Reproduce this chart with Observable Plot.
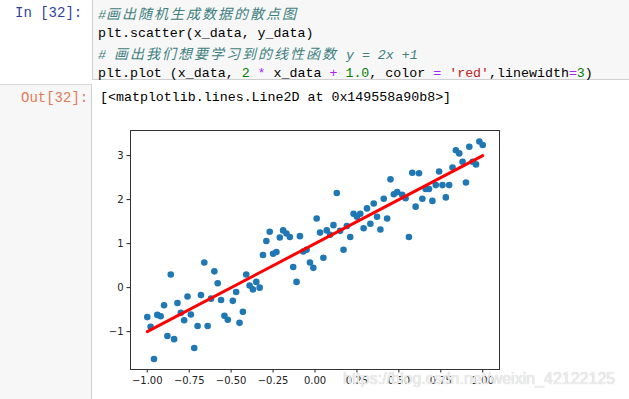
<!DOCTYPE html>
<html>
<head>
<meta charset="utf-8">
<script src="https://cdn.jsdelivr.net/npm/d3@7"></script>
<script src="https://cdn.jsdelivr.net/npm/@observablehq/plot@0.6"></script>
<style>
  html, body { margin: 0; padding: 0; background: #fff; }
  #page { position: relative; width: 629px; height: 399px; overflow: hidden; background: #fff; }
  .mono { font-family: "Liberation Mono", "DejaVu Sans Mono", monospace; font-size: 13.3px; white-space: pre; }
  #inPrompt { position: absolute; left: 15px; top: 5px; color: #303F9F; font-family: "Liberation Mono", monospace; font-size: 14px; white-space: pre; }
  #codeBox { position: absolute; left: 92px; top: -1px; width: 545px; height: 81px; background: #f7f7f7; border: 1px solid #cfcfcf; box-sizing: border-box; }
  #code { position: absolute; left: 98px; top: 4px; line-height: 18.3px; color: #000; }
  .cm { color: #408080; font-style: italic; }
  .cjk { font-family: "Noto Sans CJK SC", sans-serif; font-size: 14px; letter-spacing: 2px; }
  .num { color: #008000; }
  .op { color: #AA22FF; }
  .str { color: #BA2121; }
  #outArea { position: absolute; left: 0; top: 84px; width: 92px; height: 320px; background: #f7f7f7; border-top: 1px solid #d8d8d8; border-right: 1px solid #cfcfcf; box-sizing: border-box; }
  #outPrompt { position: absolute; left: 21px; top: 90px; color: #e07a5a; font-family: "Liberation Mono", monospace; font-size: 14px; white-space: pre; }
  #outText { position: absolute; left: 100px; top: 90px; color: #000; }
  #chart { position: absolute; left: 93px; top: 120px; }
  #wm { position: absolute; left: 343px; top: 370px; font-family: "Liberation Sans", Arial, sans-serif; font-size: 16px; color: #ededed; text-shadow: 0 0 1px #c0c0c0; white-space: pre; }
</style>
</head>
<body>
<div id="page">
  <div id="inPrompt">In [32]:</div>
  <div id="codeBox"></div>
  <div id="code" class="mono"><span class="cm">#<span class="cjk">画出随机生成数据的散点图</span></span>
plt.scatter(x_data, y_data)
<span class="cm"># <span class="cjk">画出我们想要学习到的线性函数</span> y = 2x +1</span>
plt.plot (x_data, <span class="num">2</span> <span class="op">*</span> x_data <span class="op">+</span> <span class="num">1.0</span>, color <span class="op">=</span> <span class="str">'red'</span>,linewidth<span class="op">=</span><span class="num">3</span>)</div>
  <div id="outArea"></div>
  <div id="outPrompt">Out[32]:</div>
  <div id="outText" class="mono">[&lt;matplotlib.lines.Line2D at 0x149558a90b8&gt;]</div>
  <div id="chart"></div>
  <div id="wm">https://blog.csdn.net/weixin_42122125</div>
</div>
<script>
const xData = [-1.00,-0.98,-0.96,-0.94,-0.92,-0.90,-0.88,-0.86,-0.84,-0.82,
  -0.80,-0.78,-0.76,-0.74,-0.72,-0.70,-0.68,-0.66,-0.64,-0.62,
  -0.60,-0.58,-0.56,-0.54,-0.52,-0.49,-0.47,-0.45,-0.43,-0.41,
  -0.39,-0.37,-0.35,-0.33,-0.31,-0.29,-0.27,-0.25,-0.23,-0.21,
  -0.19,-0.17,-0.15,-0.13,-0.11,-0.09,-0.07,-0.05,-0.03,-0.01,
  0.01,0.03,0.05,0.07,0.09,0.11,0.13,0.15,0.17,0.19,
  0.21,0.23,0.25,0.27,0.29,0.31,0.33,0.35,0.37,0.39,
  0.41,0.43,0.45,0.47,0.49,0.52,0.54,0.56,0.58,0.60,
  0.62,0.64,0.66,0.68,0.70,0.72,0.74,0.76,0.78,0.80,
  0.82,0.84,0.86,0.88,0.90,0.92,0.94,0.96,0.98,1.00];
const yData = [-0.67,-0.89,-1.62,-0.62,-0.65,-0.40,-1.10,0.30,-1.17,-0.35,
  -0.57,-0.74,-0.20,-0.61,-1.37,-0.87,-0.17,0.57,-0.87,-0.25,
  0.37,0.10,-0.28,-0.64,-0.73,-0.30,-0.10,-0.80,-0.55,0.30,
  0.05,-0.04,0.13,0.00,0.74,1.06,1.27,0.77,0.81,1.14,
  1.30,1.23,1.15,0.47,0.13,1.17,0.82,0.86,0.57,0.45,
  1.57,1.25,0.68,1.30,1.20,1.42,2.15,1.29,0.86,1.40,
  1.15,1.68,1.61,1.68,1.35,1.80,1.45,1.91,1.61,1.32,
  2.02,1.57,2.46,2.12,2.17,2.11,2.03,1.15,2.61,1.84,
  2.60,2.02,2.24,2.24,1.97,2.33,2.64,2.33,2.05,2.33,
  2.73,3.12,3.05,2.86,2.39,3.20,2.86,2.80,3.32,3.24];
const lineX = [-1, 1];
const lineY = [-1, 3];
const xTicks = [-1, -0.75, -0.5, -0.25, 0, 0.25, 0.5, 0.75, 1];
const yTicks = [-1, 0, 1, 2, 3];

const points = xData.map((x, i) => ({x, y: yData[i]}));
const linePts = lineX.map((x, i) => ({x, y: lineY[i]}));

const chart = Plot.plot({
  width: 536,
  height: 279,
  marginLeft: 37,
  marginRight: 130,
  marginTop: 10,
  marginBottom: 30,
  style: { fontFamily: "DejaVu Sans", fontSize: "10px", background: "transparent", color: "#222" },
  x: { domain: [-1.1, 1.1], ticks: xTicks, tickFormat: d3.format(".2f"), tickSize: 3.5, tickPadding: 3.5, label: null },
  y: { domain: [-1.86, 3.57], ticks: yTicks, tickFormat: d3.format("d"), tickSize: 3.5, tickPadding: 3.5, label: null },
  marks: [
    Plot.dot(points, { x: "x", y: "y", r: 3.3, fill: "#1f77b4" }),
    Plot.line(linePts, { x: "x", y: "y", stroke: "red", strokeWidth: 3 }),
    Plot.frame({ stroke: "#333" })
  ]
});
document.getElementById("chart").appendChild(chart);
</script>
</body>
</html>
